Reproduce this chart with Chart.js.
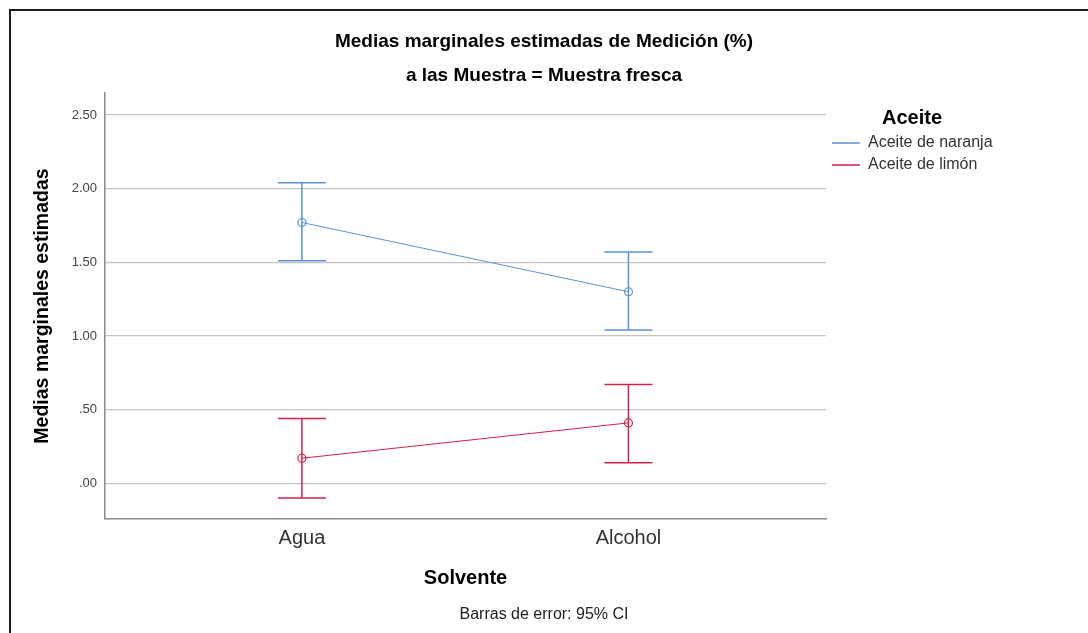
<!DOCTYPE html>
<html><head><meta charset="utf-8">
<script src="https://cdn.jsdelivr.net/npm/chart.js@4.4.1/dist/chart.umd.min.js"></script>
<style>
html,body{margin:0;padding:0;background:#fff;}
#wrap{position:relative;width:1088px;height:633px;overflow:hidden;background:#fff;}
#frame{position:absolute;left:9px;top:9px;width:1100px;height:700px;border-left:2px solid #1a1a1a;border-top:2px solid #1a1a1a;pointer-events:none;}
canvas{position:absolute;left:0;top:0;}
</style></head><body>
<div id="wrap"><canvas id="c" width="1088" height="633"></canvas><div id="frame"></div></div>
<script>
// ---- data ----
const categories = ['Agua', 'Alcohol'];
const seriesNames = ['Aceite de naranja', 'Aceite de limón'];
const naranjaMean = [1.77, 1.30];
const naranjaLow  = [1.51, 1.04];
const naranjaHigh = [2.04, 1.57];
const limonMean = [0.17, 0.41];
const limonLow  = [-0.10, 0.14];
const limonHigh = [0.44, 0.67];
const yTicks = [0, 0.5, 1.0, 1.5, 2.0, 2.5];

const titleLines = ['Medias marginales estimadas de Medición (%)', 'a las Muestra = Muestra fresca'];
const yTitle = 'Medias marginales estimadas';
const xTitle = 'Solvente';
const legendTitle = 'Aceite';
const footer = 'Barras de error: 95% CI';

// ---- style ----
const FONT = "'Liberation Sans', Arial, Helvetica, sans-serif";
Chart.defaults.font.family = FONT;
const colors = ['#5b93d8', '#d3204d'];

const means = [naranjaMean, limonMean];
const lows = [naranjaLow, limonLow];
const highs = [naranjaHigh, limonHigh];

const datasets = seriesNames.map((name, s) => ({
  label: name,
  data: categories.map((c, i) => ({x: i, y: means[s][i]})),
  low: lows[s],
  high: highs[s],
  borderColor: colors[s],
  backgroundColor: colors[s],
  borderWidth: 1,
  pointRadius: 4,
  pointBorderWidth: 1.2,
  pointBackgroundColor: 'rgba(0,0,0,0)',
  pointBorderColor: colors[s],
  pointStyle: 'circle',
  tension: 0
}));

const errorBars = {
  id: 'errorBars',
  afterDatasetsDraw(chart) {
    const ctx = chart.ctx;
    const xs = chart.scales.x, ys = chart.scales.y;
    chart.data.datasets.forEach(ds => {
      ctx.save();
      ctx.strokeStyle = ds.borderColor;
      ctx.lineWidth = 1.5;
      ds.data.forEach((p, i) => {
        const x = xs.getPixelForValue(p.x);
        const y1 = ys.getPixelForValue(ds.low[i]);
        const y2 = ys.getPixelForValue(ds.high[i]);
        ctx.beginPath();
        ctx.moveTo(x, y1); ctx.lineTo(x, y2);
        ctx.moveTo(x - 24, y1); ctx.lineTo(x + 24, y1);
        ctx.moveTo(x - 24, y2); ctx.lineTo(x + 24, y2);
        ctx.stroke();
      });
      ctx.restore();
    });
  }
};

const legendSizer = {
  id: 'legendSizer',
  beforeLayout(chart) {
    const lg = chart.legend;
    if (lg && !lg._patched) {
      const f = lg.fit;
      lg.fit = function() { f.call(this); this.width = 262; };
      lg._patched = true;
    }
  },
  afterLayout(chart) {
    const lg = chart.legend;
    if (lg) { lg.width = 172; lg.right = lg.left + 172; }
  }
};

new Chart(document.getElementById('c'), {
  type: 'line',
  data: { datasets },
  plugins: [legendSizer, errorBars],
  options: {
    responsive: false,
    animation: false,
    layout: { padding: 0 },
    plugins: {
      tooltip: { enabled: false },
      title: {
        display: true,
        text: titleLines,
        color: '#000',
        font: { size: 19, weight: 'bold', lineHeight: 34/19 },
        padding: { top: 25, bottom: 0 }
      },
      subtitle: {
        display: true,
        position: 'bottom',
        text: footer,
        color: '#222',
        font: { size: 16, weight: 'normal', lineHeight: 1.2 },
        padding: { top: 6.4, bottom: 8.4 }
      },
      legend: {
        display: true,
        position: 'right',
        align: 'start',
        fullSize: false,
        title: {
          display: true,
          text: legendTitle,
          color: '#000',
          font: { size: 20, weight: 'bold', lineHeight: 1 },
          padding: { top: 15, bottom: 1 }
        },
        labels: {
          color: '#333',
          font: { size: 16 },
          usePointStyle: true,
          pointStyle: 'line',
          pointStyleWidth: 28,
          padding: 6,
          generateLabels(chart) {
            return chart.data.datasets.map((ds, i) => ({
              text: ds.label, strokeStyle: ds.borderColor, fillStyle: ds.borderColor,
              lineWidth: 1.5, pointStyle: 'line', datasetIndex: i, hidden: false, fontColor: '#333'
            }));
          }
        }
      }
    },
    scales: {
      x: {
        type: 'linear',
        min: -0.603,
        max: 1.605,
        afterBuildTicks: s => { s.ticks = categories.map((c, i) => ({value: i})); },
        afterFit: s => { s.height = 80; },
        ticks: {
          callback: v => categories[v] ?? '',
          color: '#333',
          font: { size: 20 },
          padding: 7,
          maxRotation: 0,
          autoSkip: false
        },
        grid: { display: false, drawTicks: false },
        border: { display: true, color: '#8c8c8c', width: 1.5 },
        title: {
          display: true,
          text: xTitle,
          color: '#000',
          font: { size: 20, weight: 'bold', lineHeight: 1.2 },
          padding: { top: 0, bottom: 9 }
        }
      },
      y: {
        type: 'linear',
        min: -0.2424,
        max: 2.649,
        afterBuildTicks: s => { s.ticks = yTicks.map(v => ({value: v})); },
        afterFit: s => { s.width = 105; },
        ticks: {
          callback: v => v.toFixed(2).replace(/^0/, ''),
          color: '#444',
          font: { size: 13 },
          padding: 8,
          autoSkip: false
        },
        grid: { display: true, drawTicks: false, color: '#c4c4c4', lineWidth: 1.2 },
        border: { display: true, color: '#8c8c8c', width: 1.5 },
        title: {
          display: true,
          text: yTitle,
          color: '#000',
          font: { size: 19.5, weight: 'bold', lineHeight: 1.2 },
          padding: { top: 31.3, bottom: 0 }
        }
      }
    }
  }
});
</script>
</body></html>
